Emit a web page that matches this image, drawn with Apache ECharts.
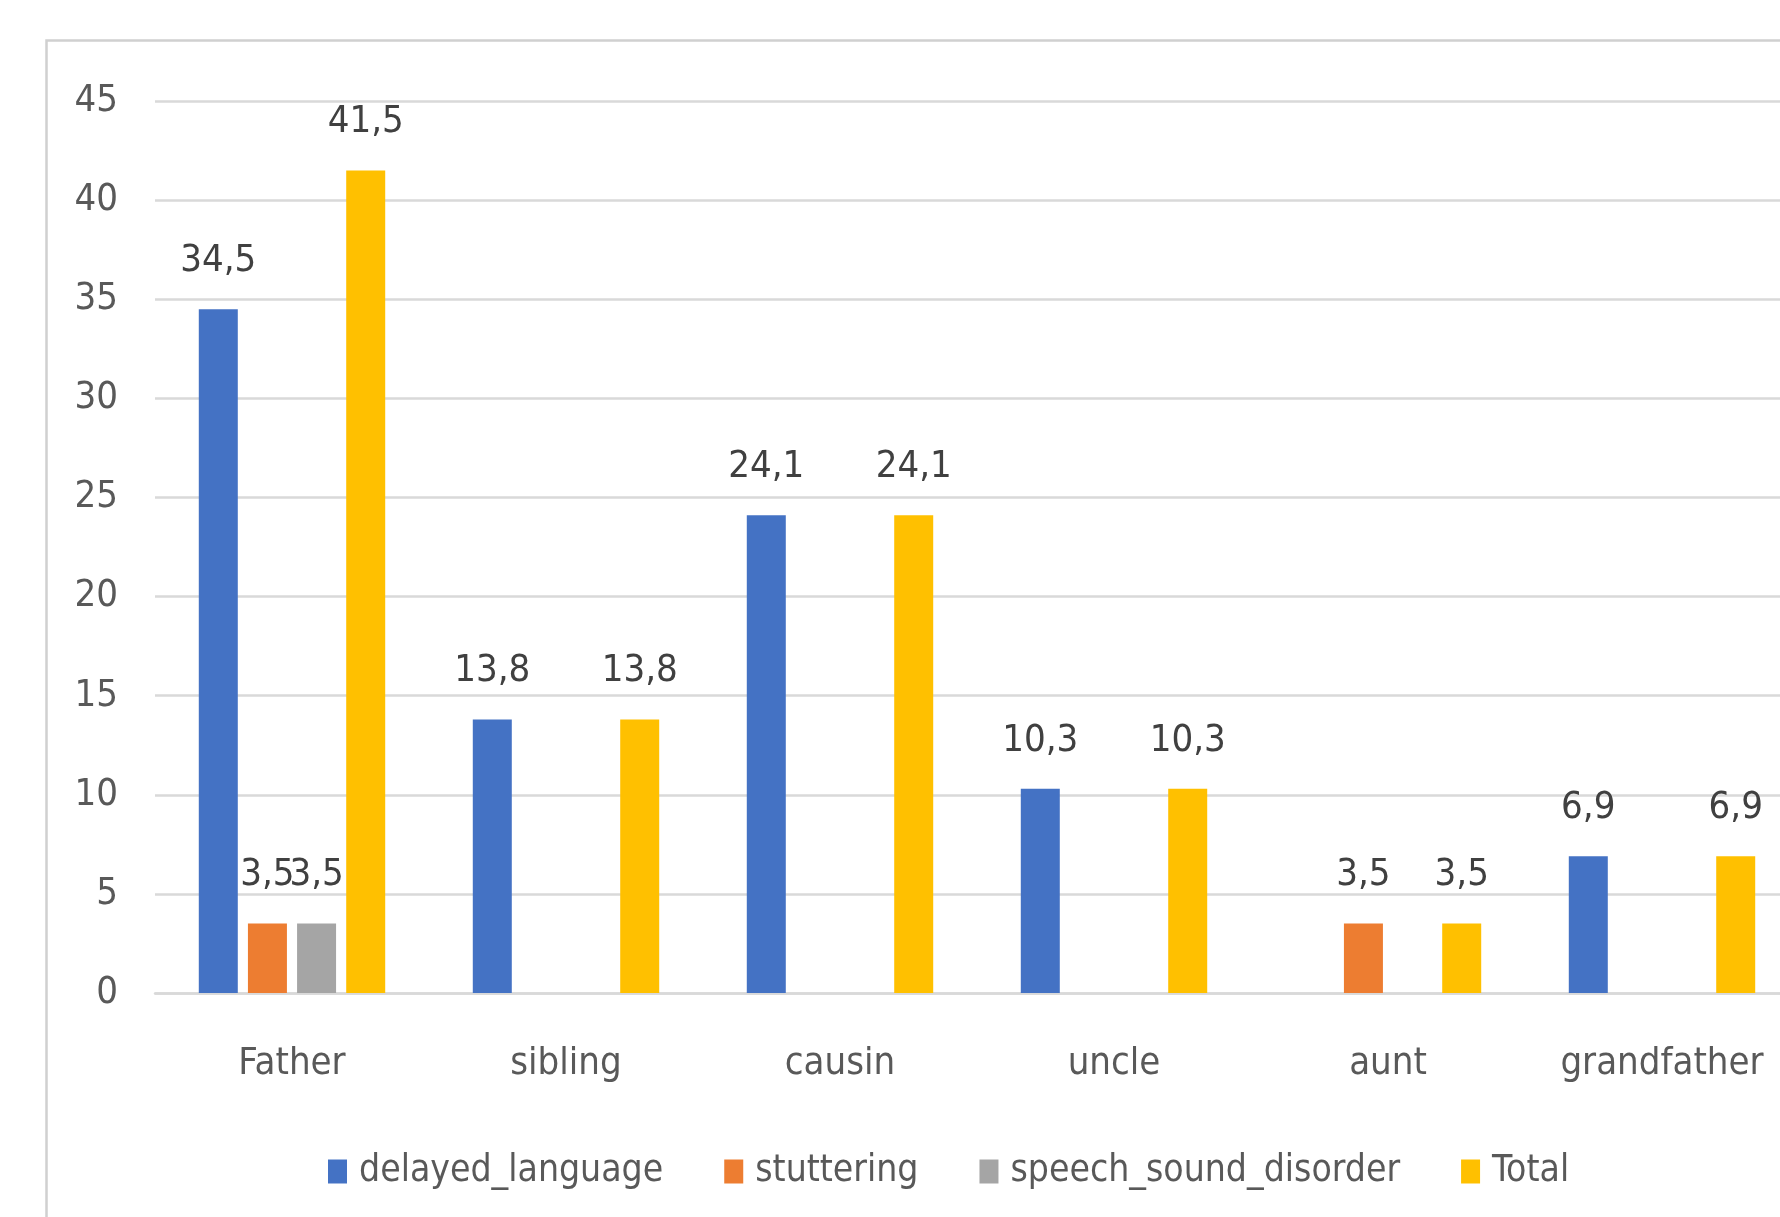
<!DOCTYPE html>
<html>
<head>
<meta charset="utf-8">
<title>Family history by disorder</title>
<script src="https://cdn.jsdelivr.net/npm/echarts@6/dist/echarts.min.js"></script>
<style>
  html, body { margin: 0; padding: 0; background: #ffffff; }
  #chart { width: 1780px; height: 1217px; }
</style>
</head>
<body>
<div id="chart"></div>
<script>
// Relatives and percentage of cases per disorder
const categories = ['Father', 'sibling', 'causin', 'uncle', 'aunt', 'grandfather'];
const delayedLanguage = [34.5, 13.8, 24.1, 10.3, '-', 6.9];
const stuttering = [3.5, '-', '-', '-', 3.5, '-'];
const speechSoundDisorder = [3.5, '-', '-', '-', '-', '-'];
const total = [41.5, 13.8, 24.1, 10.3, 3.5, 6.9];
const yTicks = [0, 5, 10, 15, 20, 25, 30, 35, 40, 45];

const FONT = "'DejaVu Sans Condensed', 'Liberation Sans Narrow', 'Noto Sans', sans-serif";
const FONT_SIZE = 38;
const LABEL_COLOR = '#404040';
const AXIS_COLOR = '#595959';
const GRID_COLOR = '#d9d9d9';

const chart = echarts.init(document.getElementById('chart'), null, { renderer: 'canvas' });

function barSeries(name, data, color) {
  return {
    name: name,
    type: 'bar',
    data: data,
    barWidth: 39,
    barGap: '26%',
    itemStyle: { color: color },
    label: {
      show: true,
      position: 'top',
      distance: 29,
      color: LABEL_COLOR,
      fontFamily: FONT,
      fontSize: FONT_SIZE,
      formatter: p => String(p.value).replace('.', ',')
    }
  };
}

chart.setOption({
  animation: false,
  backgroundColor: '#ffffff',
  textStyle: { fontFamily: FONT },
  graphic: [{
    type: 'rect',
    left: 44,
    top: 38,
    shape: { width: 1800, height: 1300 },
    style: { fill: 'none', stroke: '#d0d0d0', lineWidth: 2.5 },
    silent: true,
    z: -10
  }],
  // the plot area runs past the right edge of the page
  grid: { left: 155, width: 1644, top: 101, bottom: 224, containLabel: false, outerBoundsMode: 'none' },
  legend: {
    left: 328,
    top: 1153,
    padding: 0,
    itemWidth: 19,
    itemHeight: 24,
    itemGap: 61,
    icon: 'rect',
    textStyle: { color: AXIS_COLOR, fontFamily: FONT, fontSize: 37, padding: [0, 0, 0, 7] },
    data: ['delayed_language', 'stuttering', 'speech_sound_disorder', 'Total']
  },
  xAxis: {
    type: 'category',
    data: categories,
    axisTick: { show: false },
    axisLine: { show: true, lineStyle: { color: GRID_COLOR, width: 2.5 } },
    axisLabel: { interval: 0, color: AXIS_COLOR, fontFamily: FONT, fontSize: FONT_SIZE, margin: 52 }
  },
  yAxis: {
    type: 'value',
    min: yTicks[0],
    max: yTicks[yTicks.length - 1],
    interval: 5,
    axisLine: { show: false },
    axisTick: { show: false },
    splitLine: { lineStyle: { color: GRID_COLOR, width: 2.5 } },
    axisLabel: { color: AXIS_COLOR, fontFamily: FONT, fontSize: FONT_SIZE, margin: 37 }
  },
  series: [
    barSeries('delayed_language', delayedLanguage, '#4472C4'),
    barSeries('stuttering', stuttering, '#ED7D31'),
    barSeries('speech_sound_disorder', speechSoundDisorder, '#A5A5A5'),
    barSeries('Total', total, '#FFC000')
  ]
});
</script>
</body>
</html>
